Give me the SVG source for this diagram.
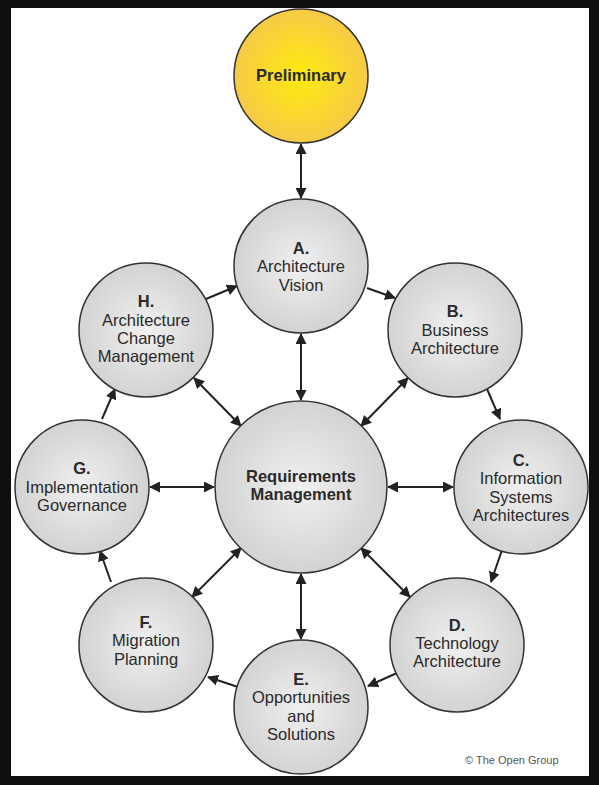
<svg xmlns="http://www.w3.org/2000/svg" width="599" height="785" viewBox="0 0 599 785">
<style>
.c{fill:url(#g);stroke:#333;stroke-width:1.5}
.p{fill:url(#y);stroke:#333;stroke-width:1.5}
text{font-family:"Liberation Sans",Arial,sans-serif;font-size:16.5px;fill:#2a2a2a;text-anchor:middle}
.b{font-weight:bold}
.t{font-size:16.5px;font-weight:bold}
.cp{font-size:11px;fill:#555;text-anchor:start}
.a{stroke:#222;stroke-width:2;fill:none}
</style>
<defs>
<radialGradient id="g" cx="0.5" cy="0.5" r="0.5">
<stop offset="0" stop-color="#f0f0f0"/>
<stop offset="1" stop-color="#d3d3d3"/>
</radialGradient>
<radialGradient id="y" cx="0.5" cy="0.5" r="0.5">
<stop offset="0" stop-color="#ffea10"/>
<stop offset="1" stop-color="#f6ca46"/>
</radialGradient>
<marker id="ah" viewBox="0 0 11 11" refX="10" refY="5.5" markerWidth="11" markerHeight="11" markerUnits="userSpaceOnUse" orient="auto-start-reverse">
<path d="M0,0 L11,5.5 L0,11 z" fill="#222"/>
</marker>
</defs>
<rect width="599" height="785" fill="#0f0f0f"/>
<rect x="11" y="8" width="578" height="768" fill="#fff"/>
<g id="connectors" class="a">
<line x1="301" y1="144" x2="301" y2="198" marker-start="url(#ah)" marker-end="url(#ah)"/>
<line x1="301" y1="400" x2="301" y2="334" marker-start="url(#ah)" marker-end="url(#ah)"/>
<line x1="361" y1="426" x2="408" y2="378" marker-start="url(#ah)" marker-end="url(#ah)"/>
<line x1="388" y1="487" x2="453" y2="487" marker-start="url(#ah)" marker-end="url(#ah)"/>
<line x1="361" y1="548" x2="410" y2="597" marker-start="url(#ah)" marker-end="url(#ah)"/>
<line x1="301" y1="574" x2="301" y2="639" marker-start="url(#ah)" marker-end="url(#ah)"/>
<line x1="241" y1="548" x2="192" y2="597" marker-start="url(#ah)" marker-end="url(#ah)"/>
<line x1="214" y1="487" x2="150" y2="487" marker-start="url(#ah)" marker-end="url(#ah)"/>
<line x1="241" y1="426" x2="194" y2="378" marker-start="url(#ah)" marker-end="url(#ah)"/>
<line x1="367" y1="288" x2="395" y2="298" marker-end="url(#ah)"/>
<line x1="487" y1="389" x2="500" y2="419" marker-end="url(#ah)"/>
<line x1="502" y1="550" x2="491" y2="582" marker-end="url(#ah)"/>
<line x1="397" y1="673" x2="368" y2="686" marker-end="url(#ah)"/>
<line x1="238" y1="687" x2="208" y2="677" marker-end="url(#ah)"/>
<line x1="111" y1="582" x2="100" y2="551" marker-end="url(#ah)"/>
<line x1="102" y1="419" x2="115" y2="389" marker-end="url(#ah)"/>
<line x1="206" y1="299" x2="237" y2="286" marker-end="url(#ah)"/>
</g>
<g id="preliminary"><circle class="p" cx="301" cy="76" r="67"/><text class="t" x="301" y="81">Preliminary</text></g>
<g id="a"><circle class="c" cx="301" cy="266" r="67"/><text class="b" x="301" y="254">A.</text><text x="301" y="272">Architecture</text><text x="301" y="291">Vision</text></g>
<g id="b"><circle class="c" cx="455" cy="330" r="67"/><text class="b" x="455" y="317">B.</text><text x="455" y="336">Business</text><text x="455" y="354">Architecture</text></g>
<g id="c"><circle class="c" cx="521" cy="487" r="67"/><text class="b" x="521" y="466">C.</text><text x="521" y="484">Information</text><text x="521" y="503">Systems</text><text x="521" y="521">Architectures</text></g>
<g id="d"><circle class="c" cx="457" cy="645" r="67"/><text class="b" x="457" y="631">D.</text><text x="457" y="649">Technology</text><text x="457" y="667">Architecture</text></g>
<g id="e"><circle class="c" cx="301" cy="707" r="67"/><text class="b" x="301" y="685">E.</text><text x="301" y="703">Opportunities</text><text x="301" y="722">and</text><text x="301" y="740">Solutions</text></g>
<g id="f"><circle class="c" cx="146" cy="645" r="67"/><text class="b" x="146" y="628">F.</text><text x="146" y="646">Migration</text><text x="146" y="665">Planning</text></g>
<g id="g-node"><circle class="c" cx="82" cy="487" r="67"/><text class="b" x="82" y="474">G.</text><text x="82" y="493">Implementation</text><text x="82" y="511">Governance</text></g>
<g id="h"><circle class="c" cx="146" cy="330" r="67"/><text class="b" x="146" y="307">H.</text><text x="146" y="326">Architecture</text><text x="146" y="344">Change</text><text x="146" y="362">Management</text></g>
<g id="requirements"><circle class="c" cx="301" cy="487" r="86"/><text class="t" x="301" y="482">Requirements</text><text class="t" x="301" y="500">Management</text></g>
<text class="cp" x="465" y="764">© The Open Group</text>
</svg>
